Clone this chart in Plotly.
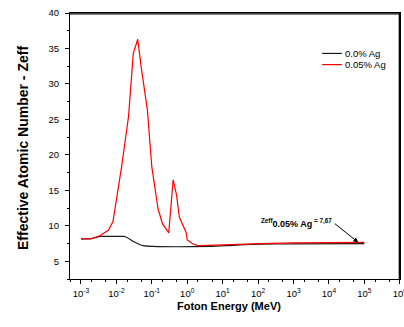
import plotly.graph_objects as go

# Data
energy_red = [0.001, 0.002, 0.0035, 0.006, 0.008, 0.014, 0.022, 0.03, 0.04, 0.05,
              0.075, 0.1, 0.15, 0.2, 0.3, 0.4, 0.5, 0.6, 0.93, 1.0, 1.5, 2.0,
              4.0, 13, 115, 1000, 1e5]
zeff_red = [8.17, 8.2, 8.64, 9.4, 10.6, 18.3, 25.4, 34.3, 36.3, 32.4,
            26.3, 18.3, 12.4, 10.3, 9.0, 16.5, 14.3, 11.2, 9.07, 8.0, 7.4, 7.2,
            7.25, 7.35, 7.5, 7.6, 7.67]

energy_black = [0.001, 0.002, 0.0035, 0.0066, 0.016, 0.02, 0.03, 0.057, 0.11,
                0.5, 4.4, 20, 115, 1000, 1e5]
zeff_black = [8.17, 8.2, 8.5, 8.5, 8.5, 8.35, 7.8, 7.2, 7.1,
              7.05, 7.1, 7.25, 7.4, 7.45, 7.5]

series_names = ["0.0% Ag", "0.05% Ag"]
series_colors = ["#1a1a1a", "#ff0000"]
x_tickvals = [1e-3, 1e-2, 1e-1, 1e0, 1e1, 1e2, 1e3, 1e4, 1e5, 1e6]
x_ticktext = ["10<sup>-3</sup>", "10<sup>-2</sup>", "10<sup>-1</sup>", "10<sup>0</sup>",
              "10<sup>1</sup>", "10<sup>2</sup>", "10<sup>3</sup>", "10<sup>4</sup>",
              "10<sup>5</sup>", "10<sup>6</sup>"]
y_tickvals = [5, 10, 15, 20, 25, 30, 35, 40]
x_title = "Foton Energy (MeV)"
y_title = "Effective Atomic Number - Zeff"

FONT = "Liberation Sans, Arial, sans-serif"

fig = go.Figure()
fig.add_trace(go.Scatter(x=energy_black, y=zeff_black, mode="lines", name=series_names[0],
                         line=dict(color=series_colors[0], width=1.2, shape="spline",
                                   smoothing=0.6)))
fig.add_trace(go.Scatter(x=energy_red, y=zeff_red, mode="lines", name=series_names[1],
                         line=dict(color=series_colors[1], width=1.2)))

fig.update_layout(
    width=404, height=327,
    margin=dict(l=70, r=4, t=13, b=48),
    paper_bgcolor="white", plot_bgcolor="white",
    font=dict(family=FONT, size=10, color="black"),
    showlegend=False,
    xaxis=dict(type="log", range=[-3.31, 6.006], tickvals=x_tickvals, ticktext=x_ticktext,
               ticks="outside", ticklen=4, tickwidth=1, tickcolor="black",
               minor=dict(ticks="outside", ticklen=2, tickcolor="black", showgrid=False),
               showline=True, linecolor="black", linewidth=1, mirror=True,
               showgrid=False, zeroline=False, automargin=False,
               ticklabelstandoff=2, ticklabeloverflow="allow",
               tickfont=dict(size=9.5, family=FONT)),
    yaxis=dict(range=[2.5, 40], tickvals=y_tickvals,
               ticks="outside", ticklen=4, tickwidth=1, tickcolor="black",
               minor=dict(ticks="outside", ticklen=2, tickcolor="black", dtick=2.5,
                          showgrid=False),
               showline=True, linecolor="black", linewidth=1, mirror=True,
               showgrid=False, zeroline=False, automargin=False,
               ticklabelstandoff=4,
               tickfont=dict(size=9.5, family=FONT)),
)

# Axis titles
fig.add_annotation(x=0.482, y=-0.1015, xref="paper", yref="paper", showarrow=False,
                   xanchor="center", yanchor="middle", text="<b>%s</b>" % x_title,
                   font=dict(size=11, family=FONT, color="black"))
fig.add_annotation(x=-0.1424, y=0.4925, xref="paper", yref="paper", showarrow=False,
                   xanchor="center", yanchor="middle", textangle=-90,
                   text="<b>%s</b>" % y_title,
                   font=dict(size=14, family=FONT, color="black"))

# Plot frame (top and right sides), drawn slightly inside the edges
fig.add_shape(type="line", xref="paper", yref="paper", x0=0, y0=0.997, x1=1, y1=0.997,
              line=dict(color="black", width=1.3), layer="above")
fig.add_shape(type="line", xref="paper", yref="paper", x0=0.998, y0=0, x1=0.998, y1=1,
              line=dict(color="black", width=1.3), layer="above")

# Legend (drawn manually for compact row spacing)
legend_rows_y = [0.848, 0.806]
for name, color, ly in zip(series_names, series_colors, legend_rows_y):
    fig.add_shape(type="line", xref="paper", yref="paper", x0=0.764, x1=0.824, y0=ly, y1=ly,
                  line=dict(color=color, width=1.2))
    fig.add_annotation(x=0.827, y=ly, xref="paper", yref="paper", text=name,
                       showarrow=False, xanchor="left", yanchor="middle",
                       font=dict(size=9.5, family=FONT, color="black"))

# Arrow pointing at the end of the curve
fig.add_annotation(x=4.83, y=7.65, xref="x", yref="y", text="", showarrow=True,
                   arrowhead=2, arrowsize=1, arrowwidth=1, arrowcolor="black",
                   ax=-25, ay=-20)
fig.add_annotation(x=0.685, y=0.21, xref="paper", yref="paper", showarrow=False,
                   xanchor="center", yanchor="middle",
                   text="<b><sup>Zeff</sup>0.05% Ag<sup> = 7,67</sup></b>",
                   font=dict(size=9, family=FONT, color="black"))

fig.write_html("out.html", config={"displayModeBar": False},
               post_script="document.body.style.margin='0';document.body.style.overflow='hidden';")
